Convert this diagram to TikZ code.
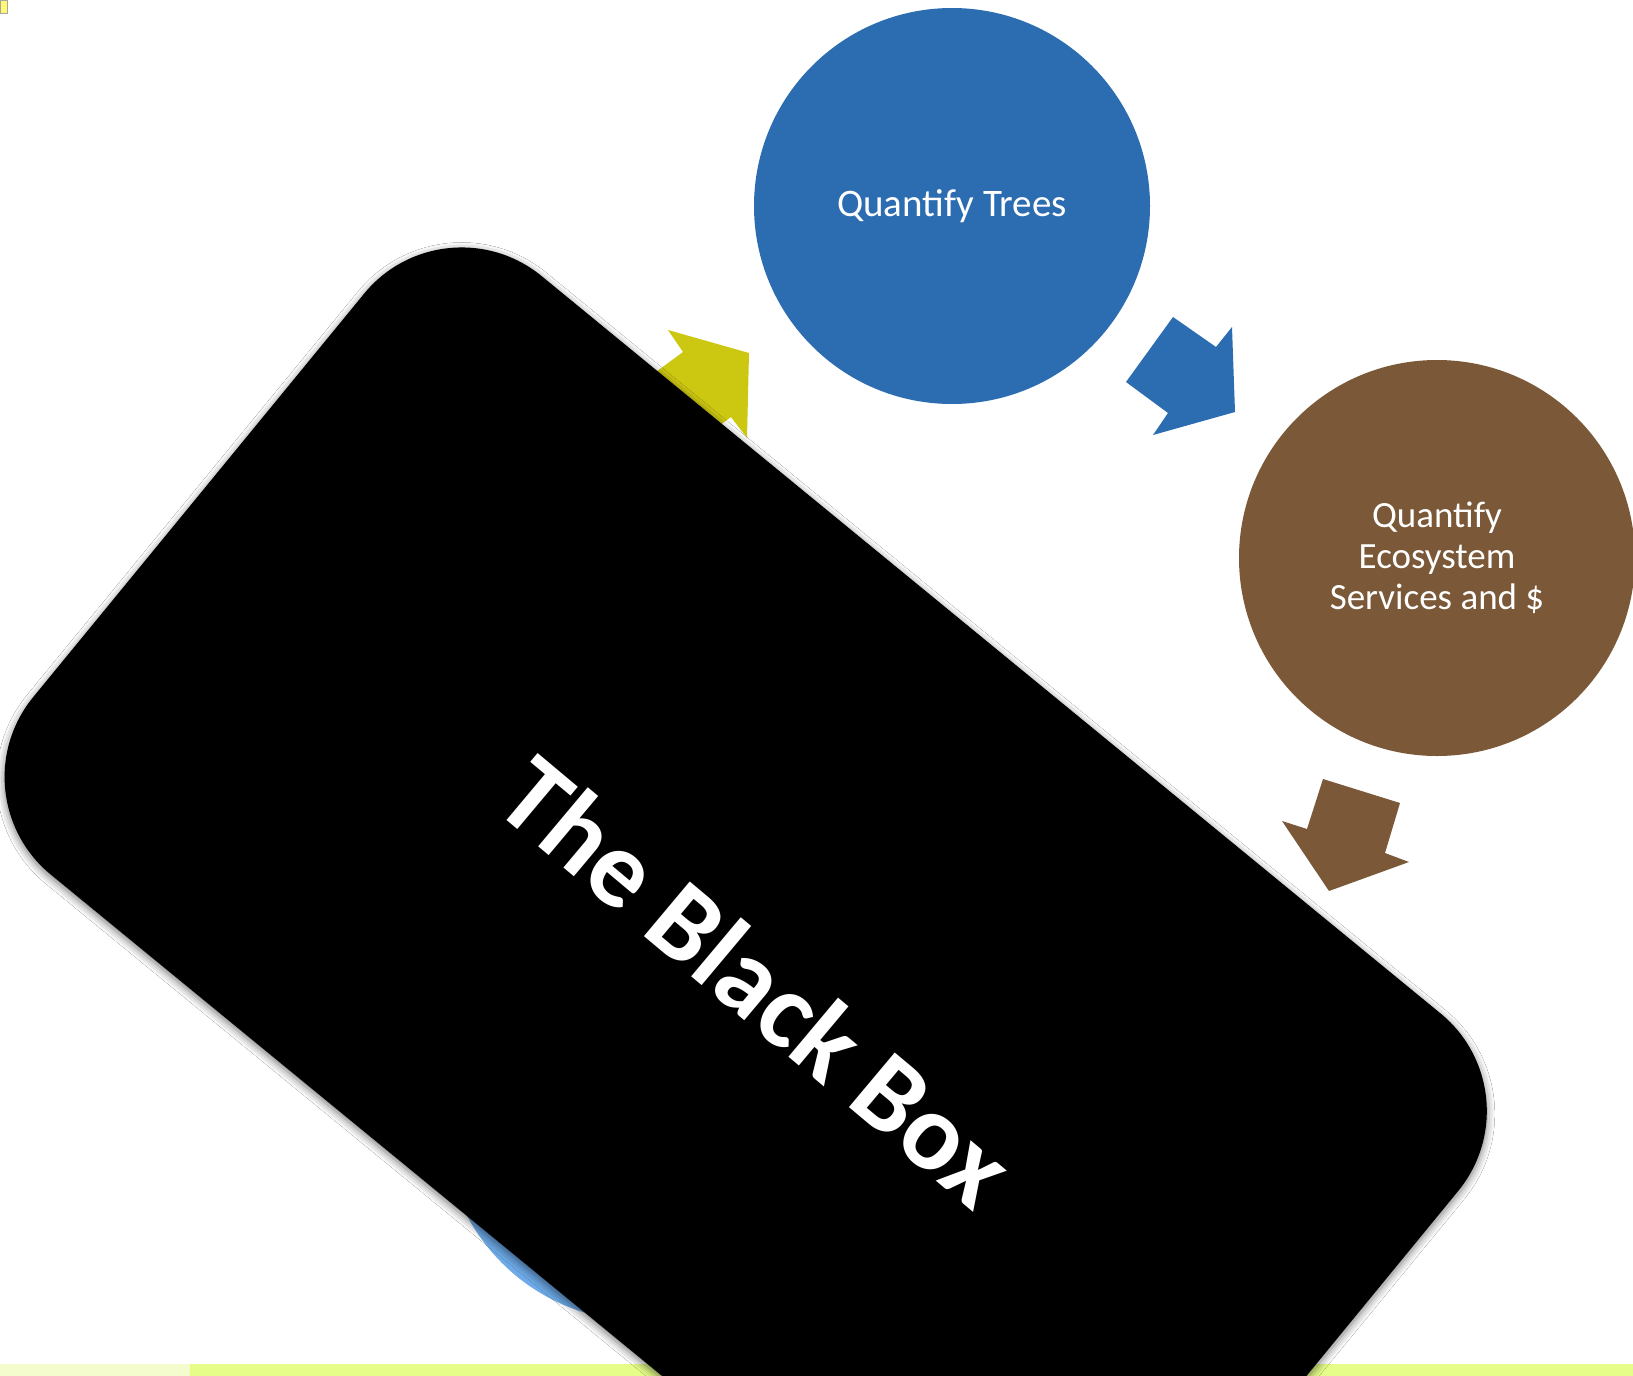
\documentclass[tikz,border=0pt]{standalone}
\usepackage{fontspec}
\setmainfont{Carlito}
\usepackage{xcolor}
\usetikzlibrary{shapes,positioning,shadows.blur}

\definecolor{treeblue}{RGB}{44,108,177}
\definecolor{ecobrown}{RGB}{122,88,56}
\definecolor{cycleyellow}{RGB}{204,199,17}
\definecolor{paleblue}{RGB}{110,170,232}
\definecolor{stripgreen}{RGB}{230,253,138}
\definecolor{stripwhite}{RGB}{244,251,204}

\begin{document}
\begin{tikzpicture}[
    x=1pt, y=-1pt,
    stage/.style={circle, minimum size=396pt, inner sep=0pt, text=white, align=center},
    blackbox/.style={rectangle, fill=black, minimum width=1415pt, minimum height=774pt, rounded corners=126pt, rotate=-39.36,
        blur shadow={shadow xshift=0pt, shadow yshift=-3pt, shadow blur radius=8pt, shadow opacity=55}},
    boxlabel/.style={rotate=-40, text=white, font=\fontsize{110}{126}\selectfont\bfseries}
]
    \useasboundingbox (0,0) rectangle (1633,1376);
    \fill[white] (0,0) rectangle (1633,1376);
    \filldraw[fill=yellow!55, draw=gray!70] (0,0) rectangle (7,13);

    % footer strip
    \fill[stripgreen] (0,1364) rectangle (1633,1376);
    \fill[stripwhite] (0,1364) rectangle (190,1376);

    % cycle stages
    \node[stage, fill=treeblue, font=\fontsize{39}{46}\selectfont] (trees) at (952,206) {Quantify Trees};
    \node[stage, fill=ecobrown, font=\fontsize{37}{41}\selectfont] (eco) at (1437,558) {Quantify\\Ecosystem\\Services and \$};
    \node[stage, fill=paleblue] (hidden) at (642,1123) {};

    % block arrows
    \fill[cycleyellow] (641,383) -- (683,352) -- (668,330) -- (749,353)
        -- (747,438) -- (731,417) -- (689,448) -- cycle;
    \fill[treeblue] (1173,317) -- (1216,347) -- (1232,327) -- (1235,412)
        -- (1153,435) -- (1168,413) -- (1126,382) -- cycle;
    \fill[ecobrown] (1323,779) -- (1400,803) -- (1385,853) -- (1409,862)
        -- (1329,891) -- (1282,821) -- (1307,829) -- cycle;

    % the box on top
    \node[blackbox] (bbox) at (745.7,944) {};
    \node[boxlabel] (bblabel) at (757,981) {The Black Box};
\end{tikzpicture}
\end{document}
